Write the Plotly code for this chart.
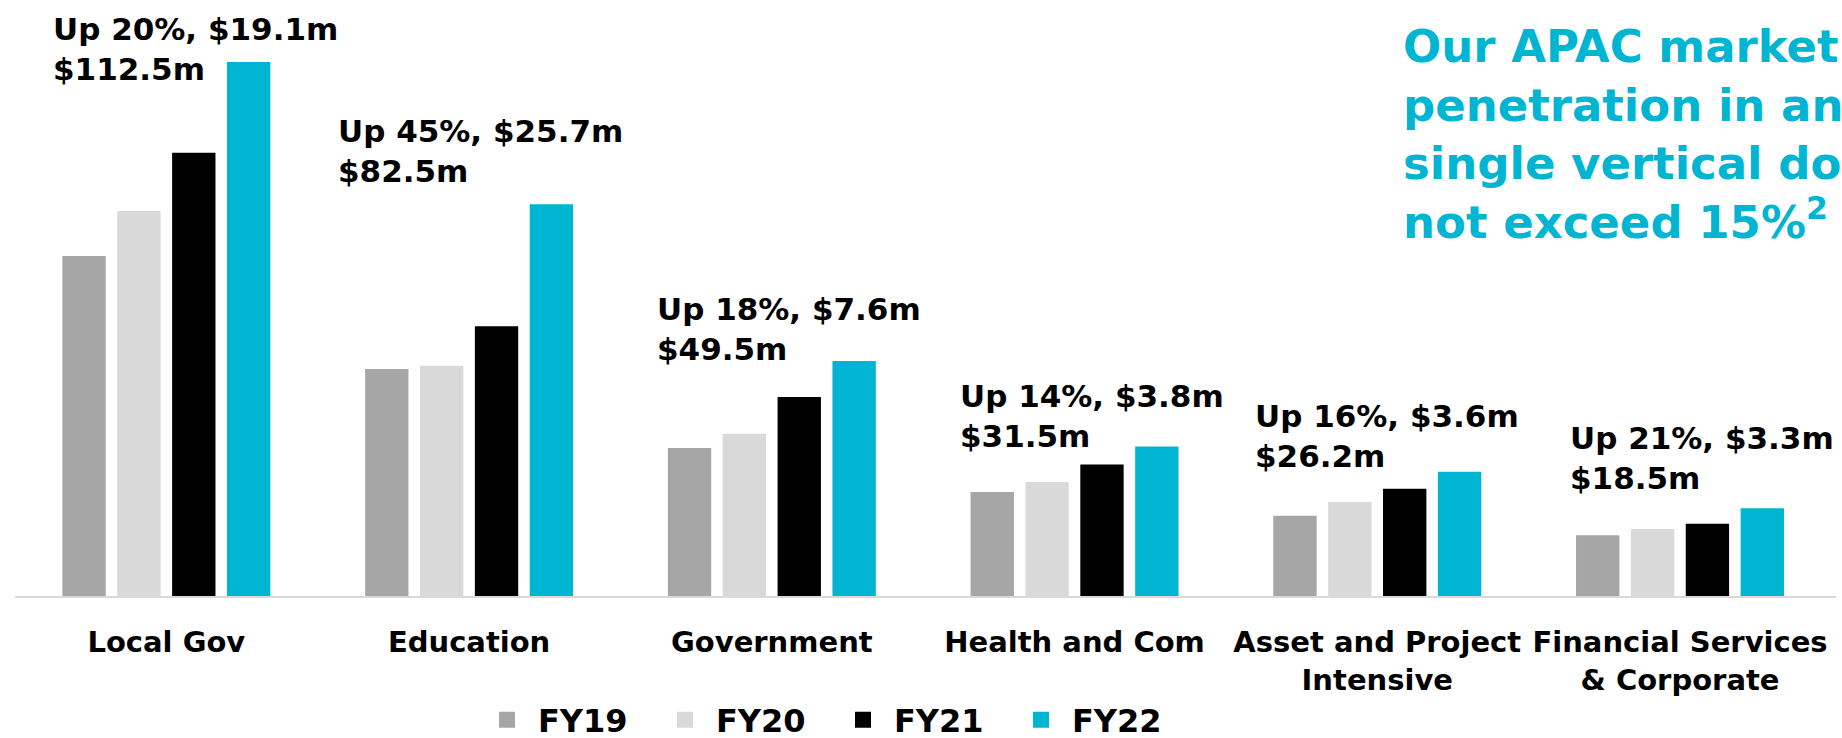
import plotly.graph_objects as go

# ---- data ----
categories = ["Local Gov", "Education", "Government", "Health and Com",
              "Asset and Project<br>Intensive", "Financial Services<br>& Corporate"]
series_names = ["FY19", "FY20", "FY21", "FY22"]
fy19 = [71.6, 47.8, 31.2, 21.9, 16.9, 12.8]
fy20 = [81.1, 48.5, 34.2, 24.0, 19.8, 14.1]
fy21 = [93.4, 56.8, 41.9, 27.7, 22.6, 15.2]
fy22 = [112.5, 82.5, 49.5, 31.5, 26.2, 18.5]
growth_labels = ["Up 20%, $19.1m", "Up 45%, $25.7m", "Up 18%, $7.6m",
                 "Up 14%, $3.8m", "Up 16%, $3.6m", "Up 21%, $3.3m"]
total_labels = ["$112.5m", "$82.5m", "$49.5m", "$31.5m", "$26.2m", "$18.5m"]
callout_text = ("Our APAC market<br>penetration in any<br>single vertical does<br>"
                "not exceed 15%<sup>2</sup>")

# ---- style ----
colors = ["#A6A6A6", "#D9D9D9", "#000000", "#00B5D1"]
TEAL = "#00B5D1"
FONT = "DejaVu Sans"
label_xshift = [-115, -133, -117, -117, -124, -112]
label_yshift = [-27, 13, -8, -10, -4, 10]

W, H = 1842, 738
ML, MR, MT, MB = 15, 6, 10, 142
plot_h = H - MT - MB
px_per_unit = 4.747
ymax = plot_h / px_per_unit

fig = go.Figure()
all_series = [fy19, fy20, fy21, fy22]
for name, vals, col in zip(series_names, all_series, colors):
    fig.add_trace(go.Bar(x=categories, y=vals, name=name, marker_color=col,
                         marker_line_width=0, showlegend=False, hoverinfo="skip"))
# legend proxies (larger square symbols)
for name, col in zip(series_names, colors):
    fig.add_trace(go.Scatter(x=[None], y=[None], mode="markers", name=name,
                             marker=dict(symbol="square", size=20, color=col, line_width=0),
                             showlegend=True, hoverinfo="skip"))

annotations = []
for i, cat in enumerate(categories):
    annotations.append(dict(
        x=cat, y=fy22[i], xref="x", yref="y",
        text=growth_labels[i] + "<br>" + total_labels[i],
        showarrow=False, xanchor="left", yanchor="bottom", align="left",
        xshift=label_xshift[i], yshift=label_yshift[i],
        font=dict(family=FONT, size=31, color="#000000", weight="bold"),
    ))
annotations.append(dict(
    x=(1401 - ML) / (W - ML - MR), y=(H - MB - 18) / plot_h, xref="paper", yref="paper",
    text=callout_text, showarrow=False, xanchor="left", yanchor="top", align="left",
    font=dict(family=FONT, size=45, color=TEAL, weight="bold"),
))

fig.update_layout(
    width=W, height=H,
    margin=dict(l=ML, r=MR, t=MT, b=MB, autoexpand=False),
    paper_bgcolor="white", plot_bgcolor="white",
    barmode="group", bargap=0.275, bargroupgap=0.21,
    annotations=annotations,
    showlegend=True,
    legend=dict(orientation="h", x=(476 - ML) / (W - ML - MR), xanchor="left",
                y=(H - MB - 720) / plot_h, yanchor="middle",
                font=dict(family=FONT, size=32, color="#000000", weight="bold"),
                itemwidth=52, entrywidth=111, entrywidthmode="pixels",
                bgcolor="rgba(0,0,0,0)"),
    font=dict(family=FONT),
)
fig.update_xaxes(showline=True, linecolor="#D9D9D9", linewidth=2, showgrid=False,
                 ticks="outside", ticklen=19, tickcolor="rgba(0,0,0,0)", tickangle=0,
                 tickfont=dict(family=FONT, size=29, color="#000000", weight="bold"),
                 fixedrange=True)
fig.update_yaxes(range=[0, ymax], visible=False, showgrid=False, fixedrange=True)

fig.write_html("out.html", config={"displayModeBar": False},
               post_script="document.body.style.margin='0';"
                           "document.body.style.overflow='hidden';")
